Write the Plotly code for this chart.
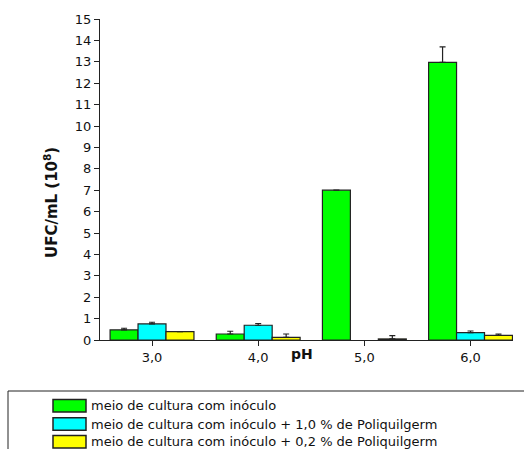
import plotly.graph_objects as go

categories = ["3,0", "4,0", "5,0", "6,0"]
series_names = [
    "meio de cultura com inóculo",
    "meio de cultura com inóculo + 1,0 % de Poliquilgerm",
    "meio de cultura com inóculo + 0,2 % de Poliquilgerm",
]
green_vals = [0.47, 0.28, 7.0, 12.97]
green_err = [0.08, 0.13, None, 0.73]
cyan_vals = [0.75, 0.69, None, 0.34]
cyan_err = [0.08, 0.08, None, 0.08]
yellow_vals = [0.39, 0.12, 0.05, 0.22]
yellow_err = [None, 0.16, 0.15, 0.06]
colors = ["#00FF00", "#00FFFF", "#FFFF00"]

FONT = "DejaVu Sans, Liberation Sans, Arial, sans-serif"
LINE = "#222222"

# pixel -> paper helpers (plot area: x 100..513, y 19..340)
def px(x):
    return (x - 100) / 413

def py(y):
    return (340 - y) / 321

fig = go.Figure()
for name, vals, errs, col in zip(series_names,
                                 [green_vals, cyan_vals, yellow_vals],
                                 [green_err, cyan_err, yellow_err], colors):
    fig.add_trace(go.Bar(
        x=categories, y=vals, name=name, showlegend=False,
        marker=dict(color=col, line=dict(color=LINE, width=1.2)),
        error_y=dict(type="data", array=errs, arrayminus=[0] * len(errs), symmetric=False,
                     color=LINE, thickness=1.2, width=3),
    ))

shapes = [dict(type="rect", xref="paper", yref="paper",
               x0=px(8), x1=px(530), y0=py(460), y1=py(391),
               line=dict(color=LINE, width=1), fillcolor="rgba(0,0,0,0)")]
annotations = [
    dict(text="<b>pH</b>", xref="paper", yref="paper", x=px(302), y=py(354),
         showarrow=False, font=dict(size=14), xanchor="center", yanchor="middle"),
    dict(text="<b>UFC/mL (10<sup>8</sup>)</b>", xref="paper", yref="paper",
         x=px(51), y=py(203), textangle=-90, showarrow=False,
         font=dict(size=15), xanchor="center", yanchor="middle"),
]
rows = [405.7, 424, 441.7]
for name, col, ry in zip(series_names, colors, rows):
    shapes.append(dict(type="rect", xref="paper", yref="paper",
                       x0=px(53), x1=px(86), y0=py(ry + 6.3), y1=py(ry - 6.3),
                       line=dict(color=LINE, width=1.5), fillcolor=col))
    annotations.append(dict(text=name, xref="paper", yref="paper", x=px(89), y=py(ry),
                            showarrow=False, xanchor="left", yanchor="middle",
                            font=dict(size=13)))

fig.update_layout(
    width=524, height=449,
    margin=dict(l=100, r=11, t=19, b=109, autoexpand=False),
    plot_bgcolor="white", paper_bgcolor="white",
    barmode="group", bargap=0.21, bargroupgap=0,
    font=dict(family=FONT, size=13, color="#111111"),
    showlegend=False,
    xaxis=dict(range=[-0.49, 3.40], showline=True, linecolor=LINE, linewidth=1.2,
               ticks="outside", ticklen=5, tickcolor=LINE, tickwidth=1.2,
               showgrid=False, zeroline=False, tickfont=dict(size=13)),
    yaxis=dict(range=[0, 15], dtick=1, showline=True, linecolor=LINE, linewidth=1.2,
               ticks="outside", ticklen=5, tickcolor=LINE, tickwidth=1.2,
               showgrid=False, zeroline=False, tickfont=dict(size=13)),
    shapes=shapes,
    annotations=annotations,
)

fig.write_html("out.html")
